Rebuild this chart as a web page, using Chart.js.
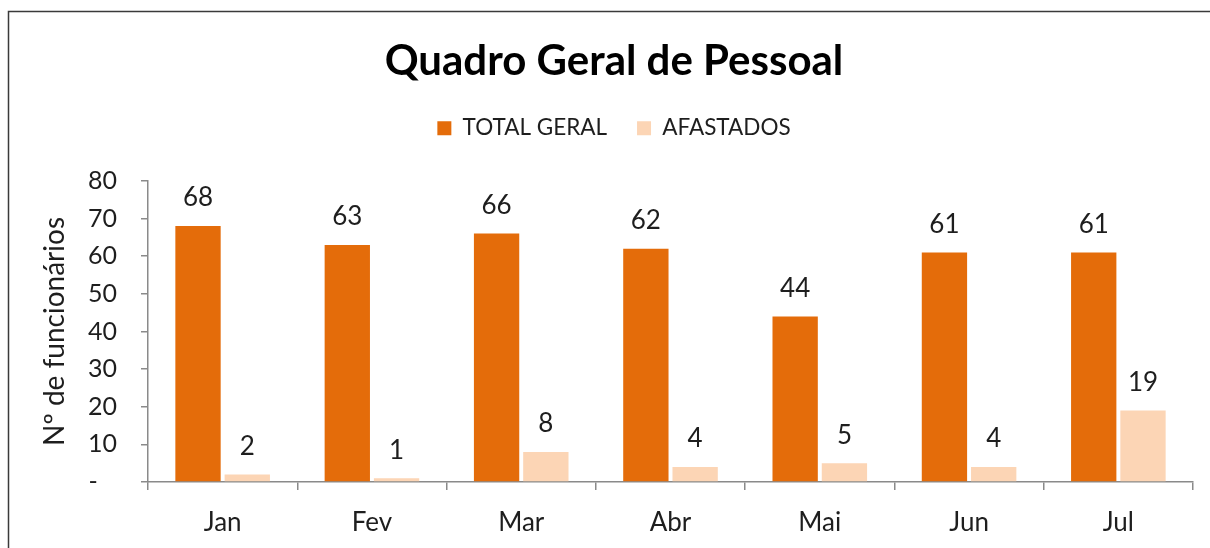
<!DOCTYPE html>
<html><head><meta charset="utf-8">
<script src="https://cdn.jsdelivr.net/npm/chart.js@4"></script>
<style>html,body{margin:0;padding:0;background:#fff}canvas{display:block}</style>
</head><body>
<canvas id="c" width="1210" height="548"></canvas>
<script>
const categories = ['Jan', 'Fev', 'Mar', 'Abr', 'Mai', 'Jun', 'Jul'];
const totalGeral = [68, 63, 66, 62, 44, 61, 61];
const afastados = [2, 1, 8, 4, 5, 4, 19];
const yTickValues = [0, 10, 20, 30, 40, 50, 60, 70, 80];
const seriesNames = ['TOTAL GERAL', 'AFASTADOS'];
const chartTitle = 'Quadro Geral de Pessoal';
const yAxisTitle = 'Nº de funcionários';

const FONT = 'Lato';
const TEXT = '#1e1e1e';
const AXIS = '#8a8a8a';

const framePlugin = {
  id: 'frame',
  beforeDraw(chart) {
    const ctx = chart.ctx;
    ctx.save();
    ctx.strokeStyle = '#3a3a3a';
    ctx.lineWidth = 1.5;
    ctx.beginPath();
    ctx.moveTo(8.5, 560);
    ctx.lineTo(8.5, 11.5);
    ctx.lineTo(1230, 11.5);
    ctx.stroke();
    ctx.restore();
  }
};

const valueLabels = {
  id: 'valueLabels',
  afterDatasetsDraw(chart) {
    const ctx = chart.ctx;
    ctx.save();
    ctx.font = '26px ' + FONT;
    ctx.fillStyle = TEXT;
    ctx.textAlign = 'center';
    ctx.textBaseline = 'middle';
    chart.data.datasets.forEach((ds, di) => {
      const meta = chart.getDatasetMeta(di);
      meta.data.forEach((el, i) => {
        ctx.fillText(String(ds.data[i]), el.x, el.y - 28);
      });
    });
    ctx.restore();
  }
};

new Chart(document.getElementById('c'), {
  type: 'bar',
  data: {
    labels: categories,
    datasets: [
      { label: seriesNames[0], data: totalGeral, backgroundColor: '#E46C0A', categoryPercentage: 0.66, barPercentage: 0.92 },
      { label: seriesNames[1], data: afastados, backgroundColor: '#FCD5B5', categoryPercentage: 0.66, barPercentage: 0.92 }
    ]
  },
  options: {
    responsive: false,
    animation: false,
    events: [],
    layout: { padding: { left: 35, right: 17, top: 0, bottom: 0 } },
    plugins: {
      title: {
        display: true, text: chartTitle, color: '#000',
        font: { family: FONT, size: 42, weight: 'bold', lineHeight: 1.2 },
        padding: { top: 36.5, bottom: 0 }
      },
      subtitle: {
        display: true, text: '', weight: 500,
        font: { size: 10, lineHeight: 1 },
        padding: { top: 21.5, bottom: 0 }
      },
      legend: {
        display: true, position: 'top',
        labels: {
          color: TEXT, boxWidth: 14, boxHeight: 14, padding: 30,
          font: { family: FONT, size: 22.5 }
        }
      },
      tooltip: { enabled: false }
    },
    scales: {
      x: {
        grid: { display: true, drawOnChartArea: false, drawTicks: true, tickLength: 8, color: AXIS, lineWidth: 1.5, offset: true },
        border: { display: true, color: AXIS, width: 1.5 },
        ticks: { color: TEXT, font: { family: FONT, size: 26 }, padding: 17.5, maxRotation: 0 },
        afterFit(scale) { scale.height = 66; }
      },
      y: {
        min: 0, max: 80,
        afterBuildTicks(scale) { scale.ticks = yTickValues.map(v => ({ value: v })); },
        grid: { display: true, drawOnChartArea: false, drawTicks: true, tickLength: 7, color: AXIS, lineWidth: 1.5 },
        border: { display: true, color: AXIS, width: 1.5 },
        ticks: {
          color: TEXT, font: { family: FONT, size: 25 }, padding: 24,
          callback: v => v === 0 ? '-   ' : String(v)
        },
        title: {
          display: true, text: yAxisTitle, color: TEXT,
          font: { family: FONT, size: 28, lineHeight: 1.2 },
          padding: { top: 3, bottom: 0 }
        },
        afterFit(scale) { scale.width = 113; }
      }
    }
  },
  plugins: [framePlugin, valueLabels]
});
</script>
</body></html>
